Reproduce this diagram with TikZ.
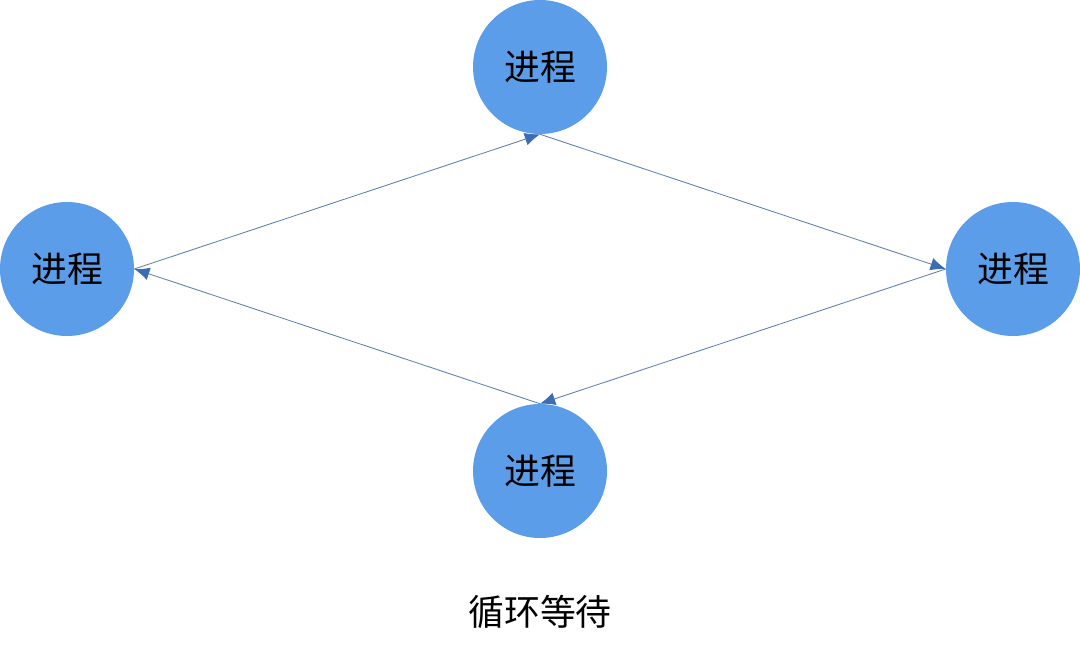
\documentclass[tikz,border=0pt]{standalone}
\usepackage{fontspec}
\usepackage{xcolor}
\usepackage{tikz}
\usetikzlibrary{arrows.meta}
\setmainfont{Noto Sans CJK SC}
\definecolor{procBlue}{HTML}{5B9DE9}
\definecolor{waitLine}{HTML}{5F7FA8}
\definecolor{waitTip}{HTML}{3C6CB4}

\begin{document}
\begin{tikzpicture}[
  font=\fontsize{25.5}{30}\selectfont,
  proc/.style={circle, fill=procBlue, minimum size=3.35cm, inner sep=0pt},
  arr/.style={-{Latex[length=3.8mm,width=3.2mm,color=waitTip]}, waitLine, line width=0.6pt}]

\useasboundingbox (0,0) rectangle (27,-16.35);

\node[proc] (top) at (13.5,-1.675) {进程};
\node[proc] (left) at (1.675,-6.725) {进程};
\node[proc] (right) at (25.325,-6.725) {进程};
\node[proc] (bottom) at (13.5,-11.775) {进程};

\draw[arr] (left.east) -- (top.south);
\draw[arr] (top.south) -- (right.west);
\draw[arr] (right.west) -- (bottom.north);
\draw[arr] (bottom.north) -- (left.east);

\node (caption) at (13.5,-15.3) {循环等待};
\end{tikzpicture}
\end{document}
